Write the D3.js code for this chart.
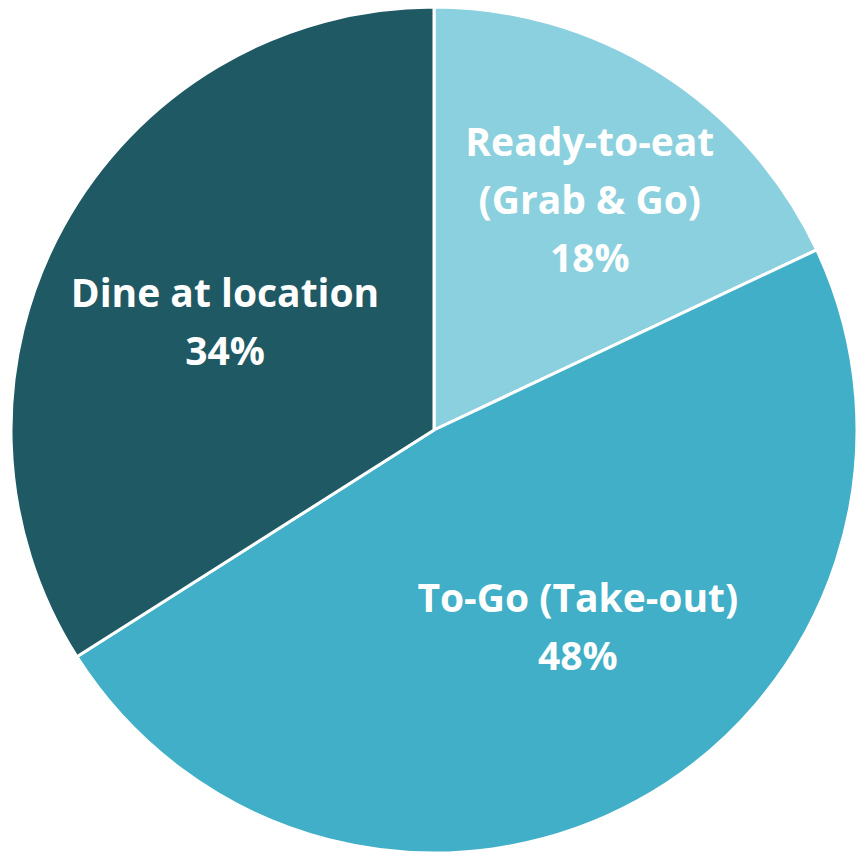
<!DOCTYPE html>
<html>
<head>
<meta charset="utf-8">
<script src="https://cdn.jsdelivr.net/npm/d3@7"></script>
<style>
  body { margin: 0; background: #fff; }
</style>
</head>
<body>
<svg width="856" height="852"></svg>
<script>
// data
var categories = ["Ready-to-eat (Grab & Go)", "To-Go (Take-out)", "Dine at location"];
var labelLines = [["Ready-to-eat", "(Grab & Go)"], ["To-Go (Take-out)"], ["Dine at location"]];
var shares = [18, 48, 34];
var colors = ["#8BD0DE", "#40AFC7", "#1F5964"];

var svg = d3.select("svg"),
    cx = 434, cy = 430, radius = 423;

var g = svg.append("g").attr("transform", "translate(" + cx + "," + cy + ")");

var data = categories.map(function(c, i) {
  return {name: c, lines: labelLines[i], value: shares[i], color: colors[i]};
});

// keep the order as given, starting at 12 o'clock clockwise
var pie = d3.pie().sort(null).value(function(d) { return d.value; });
var arc = d3.arc().innerRadius(0).outerRadius(radius);

var slices = g.selectAll(".slice")
  .data(pie(data))
  .enter().append("g")
    .attr("class", "slice");

slices.append("path")
  .attr("d", arc)
  .attr("fill", function(d) { return d.data.color; })
  .attr("stroke", "#fff")
  .attr("stroke-width", 3)
  .attr("stroke-linejoin", "round");

// label placement: radial factor and a small angle shift (degrees) per slice
var labelRadius = [0.657, 0.577, 0.556];
var labelShift = [1.7, -7.3, -1.5];
var lineHeight = 58;

slices.each(function(d, i) {
  var a = (d.startAngle + d.endAngle) / 2 + labelShift[i] * Math.PI / 180;
  var r = radius * labelRadius[i];
  var x = Math.sin(a) * r, y = -Math.cos(a) * r;
  var lines = d.data.lines.concat([d.data.value + "%"]);
  var t = d3.select(this).append("text")
    .attr("text-anchor", "middle")
    .attr("fill", "#fff")
    .attr("font-family", "'Open Sans', sans-serif")
    .attr("font-weight", "bold")
    .attr("font-size", 39);
  lines.forEach(function(s, k) {
    t.append("tspan")
      .attr("x", x)
      .attr("y", y + (k - (lines.length - 1) / 2) * lineHeight)
      .attr("dy", "0.35em")
      .text(s);
  });
});
</script>
</body>
</html>
